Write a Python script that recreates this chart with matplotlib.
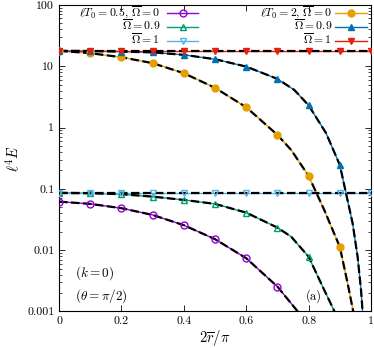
import matplotlib
matplotlib.use('Agg')
import matplotlib.pyplot as plt
from matplotlib.ticker import FixedLocator, FixedFormatter, LogLocator, NullFormatter

plt.rcParams['font.family'] = 'serif'
plt.rcParams['font.serif'] = ['cmr10']
plt.rcParams['mathtext.fontset'] = 'cm'
plt.rcParams['axes.formatter.use_mathtext'] = True
plt.rcParams['font.size'] = 8.5

# marker positions (2r/pi) and values
r_grid = [0.0, 0.1, 0.2, 0.3, 0.4, 0.5, 0.6, 0.7, 0.8, 0.9, 1.0]

# lT0 = 0.5
E_a0 = [0.0618, 0.0568, 0.0483, 0.0375, 0.0255, 0.0151, 0.00738, 0.00254]
extra_a0 = ([0.765], [0.001])
E_a09 = [0.086, 0.0848, 0.0817, 0.0746, 0.0659, 0.0568, 0.0409, 0.0233, 0.0078]
extra_a09 = ([0.744, 0.85, 0.883], [0.0166, 0.00224, 0.001])
E_a1 = [0.086] * 11

# lT0 = 2
E_b0 = [17.8, 16.3, 14.0, 11.2, 7.69, 4.43, 2.14, 0.757, 0.162, 0.0113]
extra_b0 = ([0.744, 0.85, 0.925, 0.943], [0.431, 0.0453, 0.00288, 0.001])
E_b09 = [17.8, 17.7, 17.3, 16.8, 15.3, 13.0, 9.85, 6.2, 2.3, 0.245]
extra_b09 = ([0.754, 0.856, 0.941, 0.957, 0.968, 0.973],
             [4.1, 0.807, 0.0275, 0.00783, 0.00224, 0.001])
E_b1 = [17.8] * 11

series = [
    (E_a0, extra_a0, '#9400d3', 'o', False, r'$\ell T_0 = 0.5,\,\overline{\Omega} = 0$'),
    (E_a09, extra_a09, '#009e73', '^', False, r'$\overline{\Omega} = 0.9$'),
    (E_a1, ([], []), '#56b4e9', 'v', False, r'$\overline{\Omega} = 1$'),
    (E_b0, extra_b0, '#e69f00', 'o', True, r'$\ell T_0 = 2,\,\overline{\Omega} = 0$'),
    (E_b09, extra_b09, '#0072b2', '^', True, r'$\overline{\Omega} = 0.9$'),
    (E_b1, ([], []), '#e51e10', 'v', True, r'$\overline{\Omega} = 1$'),
]

fig = plt.figure(figsize=(3.74, 3.48), dpi=100)
ax = fig.add_axes([0.158, 0.105, 0.834, 0.881])

key_line_y = [0.9739, 0.9282, 0.8825]
key_text_y = [0.9625, 0.9168, 0.8711]

for i, (E, extra, col, mk, filled, lab) in enumerate(series):
    pts = sorted(zip(r_grid[:len(E)] + extra[0], E + extra[1]))
    xs = [p[0] for p in pts]
    ys = [p[1] for p in pts]
    mfc = col if filled else 'none'
    ax.plot(xs, ys, color=col, lw=1.0, zorder=2)
    ax.plot(xs, ys, color='black', lw=1.6, dashes=(3.8, 1.6), zorder=3)
    ax.plot(r_grid[:len(E)], E, ls='none', marker=mk, ms=5,
            mfc=mfc, mec=col, mew=1.0, zorder=4)

    # gnuplot-style key: text right-aligned, sample to its right
    col_i, row_i = divmod(i, 3)
    tx, lx0, lx1 = [(0.324, 0.346, 0.446), (0.875, 0.885, 0.987)][col_i]
    ky = key_line_y[row_i]
    ax.text(tx, key_text_y[row_i], lab, transform=ax.transAxes, ha='right',
            va='baseline', fontsize=8.5)
    ax.plot([lx0, lx1], [ky, ky], color=col, lw=1.0, transform=ax.transAxes,
            clip_on=False)
    ax.plot([(lx0 + lx1) / 2], [ky], marker=mk, ms=5, mfc=mfc, mec=col,
            mew=1.0, transform=ax.transAxes, clip_on=False)

ax.set_yscale('log')
ax.set_xlim(0, 1)
ax.set_ylim(1e-3, 100)

ax.xaxis.set_major_locator(FixedLocator([0, 0.2, 0.4, 0.6, 0.8, 1.0]))
ax.xaxis.set_major_formatter(FixedFormatter(['0', '0.2', '0.4', '0.6', '0.8', '1']))
ax.yaxis.set_major_locator(FixedLocator([1e-3, 1e-2, 1e-1, 1, 10, 100]))
ax.yaxis.set_major_formatter(FixedFormatter(['0.001', '0.01', '0.1', '1', '10', '100']))
ax.yaxis.set_minor_locator(LogLocator(base=10, subs=range(2, 10)))
ax.yaxis.set_minor_formatter(NullFormatter())
ax.tick_params(which='both', direction='in', top=True, right=True)
ax.tick_params(which='major', length=4, width=0.6)
ax.tick_params(which='minor', length=2, width=0.5)
for s in ax.spines.values():
    s.set_linewidth(0.8)

ax.set_xlabel(r'$2\overline{r}/\pi$', fontsize=10.5, labelpad=1.5)
ax.set_ylabel(r'$\ell^4 E$', fontsize=10.5)

ax.text(0.05, 0.115, r'$(k = 0)$', transform=ax.transAxes, fontsize=9.5)
ax.text(0.05, 0.04, r'$(\theta = \pi/2)$', transform=ax.transAxes, fontsize=9.5)
ax.text(0.79, 0.04, '(a)', transform=ax.transAxes, fontsize=9)

fig.savefig('out.png', dpi=100)
